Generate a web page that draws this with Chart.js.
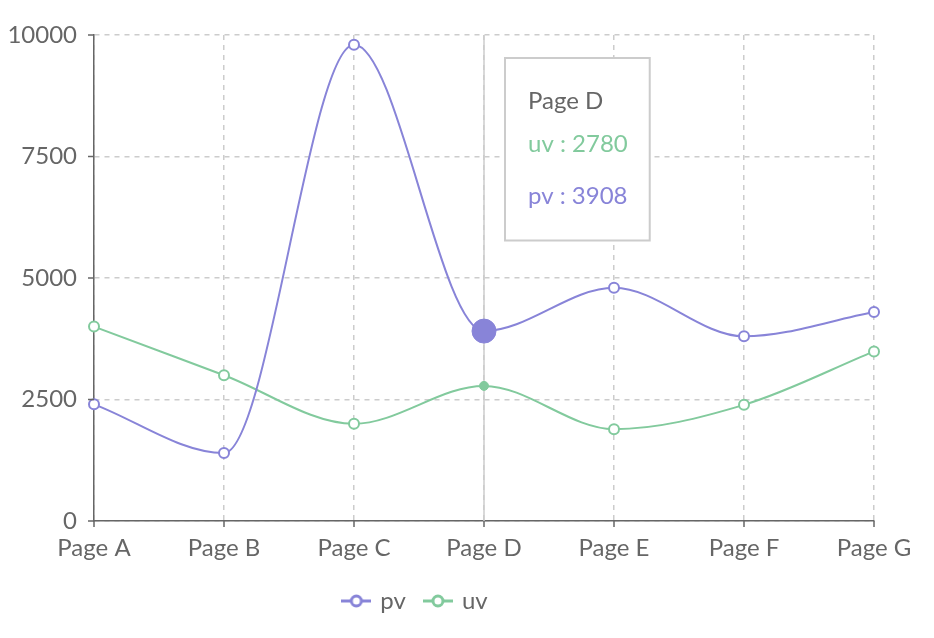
<!DOCTYPE html>
<html>
<head>
<meta charset="utf-8">
<script src="https://cdn.jsdelivr.net/npm/chart.js@4/dist/chart.umd.min.js"></script>
<style>
  html, body { margin: 0; padding: 0; background: #fff; }
  #wrap { width: 934px; height: 638px; position: relative; }
</style>
</head>
<body>
<div id="wrap"><canvas id="chart"></canvas></div>
<script>
const pages = ['Page A', 'Page B', 'Page C', 'Page D', 'Page E', 'Page F', 'Page G'];
const pvValues = [2400, 1398, 9800, 3908, 4800, 3800, 4300];
const uvValues = [4000, 3000, 2000, 2780, 1890, 2390, 3490];
const yTicks = [0, 2500, 5000, 7500, 10000];
const activePage = 3;

const PV = '#8884d8';
const UV = '#82ca9d';
const FONT = '"Source Sans Pro", Lato, sans-serif';
const FS = 24;

// legend icon: short line with a hollow circle
function legendIcon(color) {
  const c = document.createElement('canvas');
  c.width = 30; c.height = 14;
  const g = c.getContext('2d');
  g.strokeStyle = color;
  g.lineWidth = 3;
  g.beginPath(); g.moveTo(0, 7); g.lineTo(30, 7); g.stroke();
  g.fillStyle = '#fff';
  g.beginPath(); g.arc(15, 7, 5, 0, Math.PI * 2); g.fill(); g.stroke();
  return c;
}

// vertical cursor line at the hovered category
const cursorLine = {
  id: 'cursorLine',
  beforeDatasetsDraw(chart) {
    const active = chart.tooltip.getActiveElements();
    if (!active.length) return;
    const x = active[0].element.x;
    const { top, bottom } = chart.chartArea;
    const ctx = chart.ctx;
    ctx.save();
    ctx.strokeStyle = '#ccc';
    ctx.lineWidth = 1.5;
    ctx.beginPath(); ctx.moveTo(x, top); ctx.lineTo(x, bottom); ctx.stroke();
    ctx.restore();
  }
};

// small solid tick marks outside the axes
const axisTicks = {
  id: 'axisTicks',
  afterDraw(chart) {
    const c = chart.ctx;
    const xs = chart.scales.x, ys = chart.scales.y;
    c.save();
    c.strokeStyle = '#666';
    c.lineWidth = 1.5;
    xs.ticks.forEach((t, i) => {
      const x = xs.getPixelForTick(i);
      c.beginPath(); c.moveTo(x, ys.bottom); c.lineTo(x, ys.bottom + 6); c.stroke();
    });
    ys.ticks.forEach((t, i) => {
      const y = ys.getPixelForTick(i);
      c.beginPath(); c.moveTo(xs.left - 6, y); c.lineTo(xs.left, y); c.stroke();
    });
    c.restore();
  }
};

// legend sits a bit left of the canvas centre
const legendShift = {
  id: 'legendShift',
  afterLayout(chart) {
    chart.legend.left -= 21;
    chart.legend.right -= 21;
  }
};

Chart.Tooltip.positioners.rightTop = function(items) {
  if (!items.length) return false;
  return { x: items[0].element.x + 21, y: this.chart.chartArea.top + 23 };
};

const ctx = document.getElementById('chart').getContext('2d');
const chart = new Chart(ctx, {
  type: 'line',
  data: {
    labels: pages,
    datasets: [{
      label: 'pv',
      data: pvValues,
      borderColor: PV,
      backgroundColor: '#fff',
      borderWidth: 2,
      pointRadius: 5,
      pointBorderWidth: 2,
      pointHoverRadius: 12,
      pointHoverBackgroundColor: PV,
      pointHoverBorderColor: PV,
      cubicInterpolationMode: 'monotone'
    }, {
      label: 'uv',
      data: uvValues,
      borderColor: UV,
      backgroundColor: '#fff',
      borderWidth: 2,
      pointRadius: 5,
      pointBorderWidth: 2,
      pointHoverRadius: 4.5,
      pointHoverBackgroundColor: UV,
      pointHoverBorderColor: UV,
      cubicInterpolationMode: 'monotone'
    }]
  },
  options: {
    responsive: true,
    maintainAspectRatio: false,
    animation: false,
    layout: { padding: { left: 0, right: 60, top: 35, bottom: 15 } },
    interaction: { mode: 'index', intersect: false },
    plugins: {
      legend: {
        position: 'bottom',
        labels: {
          color: '#666',
          font: { family: FONT, size: FS },
          usePointStyle: true,
          pointStyleWidth: 24,
          padding: 20,
          generateLabels(chart) {
            return chart.data.datasets.map((ds, i) => ({
              text: ds.label,
              fontColor: '#666',
              pointStyle: legendIcon(ds.borderColor),
              strokeStyle: ds.borderColor,
              fillStyle: '#fff',
              lineWidth: 0,
              hidden: false,
              datasetIndex: i
            }));
          }
        }
      },
      tooltip: {
        position: 'rightTop',
        xAlign: 'left',
        yAlign: 'top',
        caretSize: 0,
        caretPadding: 0,
        cornerRadius: 0,
        backgroundColor: '#fff',
        borderColor: '#ccc',
        borderWidth: 2,
        displayColors: false,
        titleColor: '#666',
        titleFont: { family: FONT, size: FS, weight: 'normal' },
        bodyFont: { family: FONT, size: FS },
        titleMarginBottom: 14,
        bodySpacing: 23,
        padding: { top: 29, left: 23, right: 22, bottom: 30 },
        itemSort: (a, b) => b.datasetIndex - a.datasetIndex,
        callbacks: {
          label: item => item.dataset.label + ' : ' + item.raw,
          labelTextColor: item => item.dataset.borderColor
        }
      }
    },
    scales: {
      x: {
        offset: false,
        afterFit(axis) { axis.height = 48; },
        grid: { color: '#ccc', lineWidth: 1.5, drawTicks: false },
        border: { display: true, color: '#666', width: 1.5, dash: [5, 5] },
        ticks: {
          color: '#666',
          font: { family: FONT, size: FS },
          padding: 13
        }
      },
      y: {
        min: 0,
        max: 10000,
        afterBuildTicks(axis) {
          axis.ticks = yTicks.map(v => ({ value: v }));
        },
        afterFit(axis) { axis.width = 94; },
        grid: { color: '#ccc', lineWidth: 1.5, drawTicks: false },
        border: { display: true, color: '#666', width: 1.5, dash: [5, 5] },
        ticks: {
          color: '#666',
          font: { family: FONT, size: FS },
          padding: 17,
          callback: v => String(v)
        }
      }
    }
  },
  plugins: [cursorLine, axisTicks, legendShift]
});

const active = [
  { datasetIndex: 0, index: activePage },
  { datasetIndex: 1, index: activePage }
];
chart.setActiveElements(active);
chart.tooltip.setActiveElements(active, { x: 0, y: 0 });
chart.update();
</script>
</body>
</html>
